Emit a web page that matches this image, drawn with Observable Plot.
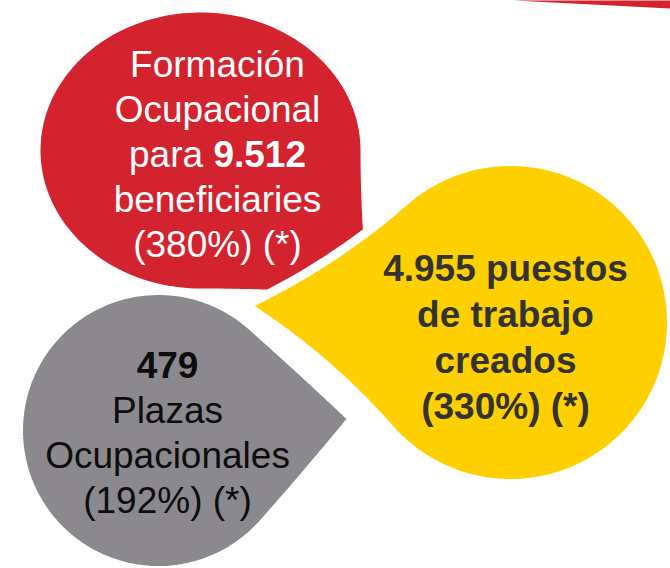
<!DOCTYPE html>
<html><head><meta charset="utf-8">
<script src="https://cdn.jsdelivr.net/npm/d3@7"></script>
<script src="https://cdn.jsdelivr.net/npm/@observablehq/plot@0.6"></script>
<style>html,body{margin:0;padding:0;background:#fff;overflow:hidden}</style>
</head><body><div id="chart"></div>
<script>
// ---------- DATA ----------
const categories = ["Formación Ocupacional", "Puestos de trabajo creados", "Plazas Ocupacionales"];
const valueLabels = ["9.512", "4.955", "479"];
const percentLabels = ["(380%) (*)", "(330%) (*)", "(192%) (*)"];
const lineTexts = [
  ["Formación", "Ocupacional", "para " + valueLabels[0], "beneficiaries", percentLabels[0]],
  [valueLabels[1] + " puestos", "de trabajo", "creados", percentLabels[1]],
  [valueLabels[2], "Plazas", "Ocupacionales", percentLabels[2]]
];
// which lines are fully bold (per bubble)
const boldLines = [[], [0, 1, 2, 3], [0]];

// ---------- LAYOUT (shape geometry & styles) ----------
const W = 670, H = 568;
const layout = [
  {cx: 200, cy: 150, rx: 138, ry: 160, rho: 90,    a: 1.05,  fill: "#D2232F", sw: 0, ink: "#ffffff", lx: 217, ly: 76,  gap: 45},
  {cx: 510, cy: 322, rx: 161, ry: 161, rho: 228.7, a: 1.166, fill: "#FFD000", sw: 9, ink: "#333333", lx: 505, ly: 280, gap: 46},
  {cx: 158, cy: 430, rx: 140, ry: 140, rho: 41.5,  a: 0.982, fill: "#8B898E", sw: 9, ink: "#0d0d0d", lx: 167, ly: 377, gap: 45}
];
const drawOrder = [0, 1, 2];
const sliver = [{x: 513, y: 0}, {x: 670, y: 0}, {x: 670, y: 8}];

// teardrop outline (PowerPoint-like: ellipse with one quadrant replaced by a pointed corner)
function outline(b, n = 140) {
  const th = b.rho * Math.PI / 180, c = Math.cos(th), s = Math.sin(th);
  const P = (lx, ly) => ({x: b.cx + lx * c - ly * s, y: b.cy + lx * s + ly * c});
  const pts = [];
  for (let i = 0; i <= n; i++) {
    const t = i / n * 1.5 * Math.PI;
    pts.push(P(b.rx * Math.cos(t), b.ry * Math.sin(t)));
  }
  const q = (p0, p1, p2, m) => {
    for (let i = 1; i <= m; i++) {
      const t = i / m, u = 1 - t;
      pts.push(P(u*u*p0[0] + 2*u*t*p1[0] + t*t*p2[0], u*u*p0[1] + 2*u*t*p1[1] + t*t*p2[1]));
    }
  };
  const A = b.a;
  q([0, -b.ry], [A * b.rx / 2, -b.ry], [A * b.rx, -A * b.ry], 40);
  q([A * b.rx, -A * b.ry], [b.rx, -A * b.ry / 2], [b.rx, 0], 40);
  return pts;
}

const rows = [];
lineTexts.forEach((lines, k) => {
  const L = layout[k];
  lines.forEach((t, i) => rows.push({
    category: categories[k], text: t, x: L.lx, y: L.ly + i * L.gap,
    bold: boldLines[k].includes(i), ink: L.ink
  }));
});

const marks = [
  Plot.line(sliver, {x: "x", y: "y", fill: layout[0].fill, stroke: "none", curve: "linear-closed"})
];
for (const k of drawOrder) {
  const L = layout[k];
  marks.push(Plot.line(outline(L), {
    x: "x", y: "y", fill: L.fill, stroke: L.sw ? "white" : "none",
    strokeWidth: L.sw, curve: "linear-closed"
  }));
}
for (const bold of [false, true]) {
  marks.push(Plot.text(rows.filter(d => d.bold === bold), {
    x: "x", y: "y", text: "text", fill: "ink", fontSize: 37,
    fontWeight: bold ? "bold" : "normal", textAnchor: "middle", lineAnchor: "bottom"
  }));
}

const chart = Plot.plot({
  width: W, height: H, margin: 0,
  x: {domain: [0, W], range: [0, W], axis: null},
  y: {domain: [0, H], range: [0, H], axis: null},
  color: {type: "identity"},
  style: {fontFamily: "'Liberation Sans', Arial, sans-serif", background: "white"},
  marks
});

// mixed-weight line: make the number bold inside "para 9.512"
d3.select(chart).selectAll("text").each(function () {
  const el = d3.select(this);
  const tgt = "para " + valueLabels[0];
  if (el.text() === tgt) {
    el.text("");
    el.append("tspan").text("para ");
    el.append("tspan").attr("font-weight", "bold").text(valueLabels[0]);
  }
});

document.getElementById("chart").appendChild(chart);
</script>
</body></html>
